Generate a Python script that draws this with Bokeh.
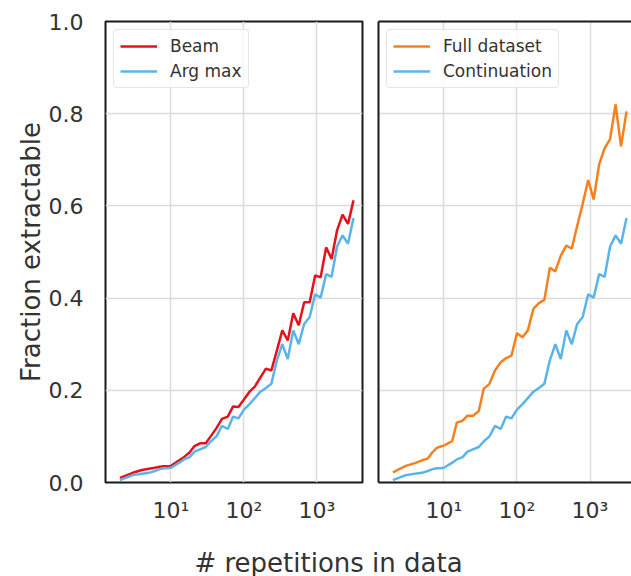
from bokeh.plotting import figure
from bokeh.layouts import column, row
from bokeh.models import (Range1d, FixedTicker, Legend, LegendItem, Label,
                          LinearAxis, NumeralTickFormatter)
from bokeh.embed import file_html
from bokeh.resources import INLINE

# ---------------- data ----------------
reps = [2, 3, 4, 5, 6, 7, 8, 9, 10, 13, 15, 18, 21, 25, 30, 35, 42, 50, 60, 71,
        84, 100, 119, 141, 168, 200, 237, 282, 335, 398, 473, 562, 668, 794,
        944, 1122, 1334, 1585, 1884, 2239, 2661, 3162]

beam = [0.010, 0.021, 0.027, 0.030, 0.032, 0.034, 0.035, 0.035, 0.036, 0.048,
        0.055, 0.065, 0.079, 0.085, 0.085, 0.100, 0.118, 0.138, 0.143, 0.165,
        0.164, 0.180, 0.197, 0.208, 0.228, 0.247, 0.243, 0.286, 0.330, 0.308,
        0.367, 0.341, 0.391, 0.391, 0.449, 0.445, 0.510, 0.485, 0.547, 0.581,
        0.561, 0.612]

arg_max = [0.005, 0.016, 0.019, 0.021, 0.025, 0.029, 0.031, 0.031, 0.032, 0.043,
           0.050, 0.055, 0.067, 0.072, 0.077, 0.089, 0.100, 0.123, 0.116, 0.143,
           0.139, 0.158, 0.170, 0.183, 0.197, 0.205, 0.214, 0.265, 0.300, 0.268,
           0.330, 0.300, 0.344, 0.359, 0.408, 0.401, 0.452, 0.446, 0.512, 0.536,
           0.518, 0.574]

full_dataset = [0.022, 0.036, 0.042, 0.048, 0.052, 0.066, 0.075, 0.078, 0.080, 0.090,
                0.130, 0.134, 0.145, 0.145, 0.155, 0.203, 0.214, 0.243, 0.261, 0.270,
                0.275, 0.324, 0.315, 0.330, 0.377, 0.389, 0.396, 0.466, 0.458, 0.492,
                0.514, 0.507, 0.557, 0.604, 0.656, 0.614, 0.690, 0.725, 0.745, 0.820,
                0.729, 0.805]

continuation = [0.005, 0.016, 0.019, 0.021, 0.025, 0.029, 0.031, 0.031, 0.032, 0.043,
                0.050, 0.055, 0.067, 0.072, 0.077, 0.089, 0.100, 0.123, 0.116, 0.143,
                0.139, 0.158, 0.170, 0.183, 0.197, 0.205, 0.214, 0.265, 0.300, 0.268,
                0.330, 0.300, 0.344, 0.359, 0.408, 0.401, 0.452, 0.446, 0.512, 0.536,
                0.518, 0.574]

x_ticks = [10, 100, 1000]
x_tick_labels = ["10\u00b9", "10\u00b2", "10\u00b3"]
y_ticks = [0.0, 0.2, 0.4, 0.6, 0.8, 1.0]

y_label = "Fraction extractable"
x_label = "# repetitions in data"

# ---------------- styles ----------------
FONT = "DejaVu Sans"
TEXT = "#333333"
GRID = "#dcdcdc"
FRAME = "#1a1a1a"
RED = "#e6111b"
BLUE = "#5ab4ea"
ORANGE = "#f7801e"

X_START, X_END_LEFT, X_END_RIGHT = 1.27, 4200, 3700
ROW_H = 530


def make_panel(width, min_left, min_right, x_end):
    p = figure(width=width, height=ROW_H, x_axis_type="log",
               x_range=Range1d(X_START, x_end), y_range=Range1d(0, 1),
               output_backend="svg", toolbar_location=None,
               min_border_left=min_left, min_border_right=min_right,
               min_border_top=21, min_border_bottom=48)
    p.background_fill_color = "white"
    p.border_fill_color = "white"
    p.xaxis.ticker = FixedTicker(ticks=x_ticks)
    p.xaxis.major_label_overrides = dict(zip(x_ticks, x_tick_labels))
    p.yaxis.ticker = FixedTicker(ticks=y_ticks)
    p.yaxis.formatter = NumeralTickFormatter(format="0.0")
    p.ygrid.ticker = FixedTicker(ticks=y_ticks)
    for ax in p.axis:
        ax.major_tick_line_color = None
        ax.minor_tick_line_color = None
        ax.major_label_text_font = FONT
        ax.major_label_text_font_size = "22px"
        ax.major_label_text_color = TEXT
        ax.axis_line_color = None
    p.xaxis.major_label_standoff = 9
    p.yaxis.major_label_standoff = 16
    p.grid.grid_line_color = GRID
    p.grid.grid_line_width = 1.5
    return p


def add_legend(p, items):
    leg = Legend(items=items, location="top_left", margin=8, padding=6,
                 spacing=5, glyph_height=20, glyph_width=37, label_standoff=13,
                 label_text_font=FONT, label_text_font_size="17px",
                 label_text_color=TEXT, label_height=20,
                 border_line_color="#cccccc", border_line_width=1,
                 background_fill_color="white", background_fill_alpha=0.8)
    if "border_radius" in Legend.properties():
        leg.border_radius = 4
    p.add_layout(leg)


# ---------------- left panel ----------------
p1 = make_panel(370, 105, 8, X_END_LEFT)
p1.outline_line_color = FRAME
p1.outline_line_width = 2
p1.yaxis.axis_label = y_label
p1.yaxis.axis_label_text_font = FONT
p1.yaxis.axis_label_text_font_size = "26px"
p1.yaxis.axis_label_text_font_style = "normal"
p1.yaxis.axis_label_text_color = TEXT
p1.yaxis.axis_label_standoff = 0

r_beam = p1.line(reps, beam, line_color=RED, line_width=2.5)
r_arg = p1.line(reps, arg_max, line_color=BLUE, line_width=2.5)
add_legend(p1, [LegendItem(label="Beam", renderers=[r_beam]),
                LegendItem(label="Arg max", renderers=[r_arg])])

# ---------------- right panel ----------------
p2 = make_panel(261, 8, 0, X_END_RIGHT)
p2.outline_line_color = None
p2.yaxis.ticker = FixedTicker(ticks=[])
p2.yaxis.major_label_standoff = 0
for ax in (p2.xaxis[0], p2.yaxis[0]):
    ax.axis_line_color = FRAME
    ax.axis_line_width = 2
top_axis = LinearAxis(ticker=FixedTicker(ticks=[]), axis_line_color=FRAME,
                      axis_line_width=2, major_tick_line_color=None,
                      minor_tick_line_color=None, major_label_standoff=0)
p2.add_layout(top_axis, "above")

r_full = p2.line(reps, full_dataset, line_color=ORANGE, line_width=2.5)
r_cont = p2.line(reps, continuation, line_color=BLUE, line_width=2.5)
add_legend(p2, [LegendItem(label="Full dataset", renderers=[r_full]),
                LegendItem(label="Continuation", renderers=[r_cont])])

# ---------------- shared x label ----------------
p3 = figure(width=631, height=46, x_range=Range1d(0, 631), y_range=Range1d(0, 46),
            output_backend="svg", toolbar_location=None, min_border=0)
p3.xaxis.visible = False
p3.yaxis.visible = False
p3.grid.visible = False
p3.outline_line_color = None
p3.add_layout(Label(x=328, y=14, text=x_label, text_align="center",
                    text_baseline="alphabetic", text_font=FONT,
                    text_font_size="26px", text_color=TEXT))

layout = column(row(p1, p2), p3)

open("out.html", "w").write(file_html(layout, INLINE))
